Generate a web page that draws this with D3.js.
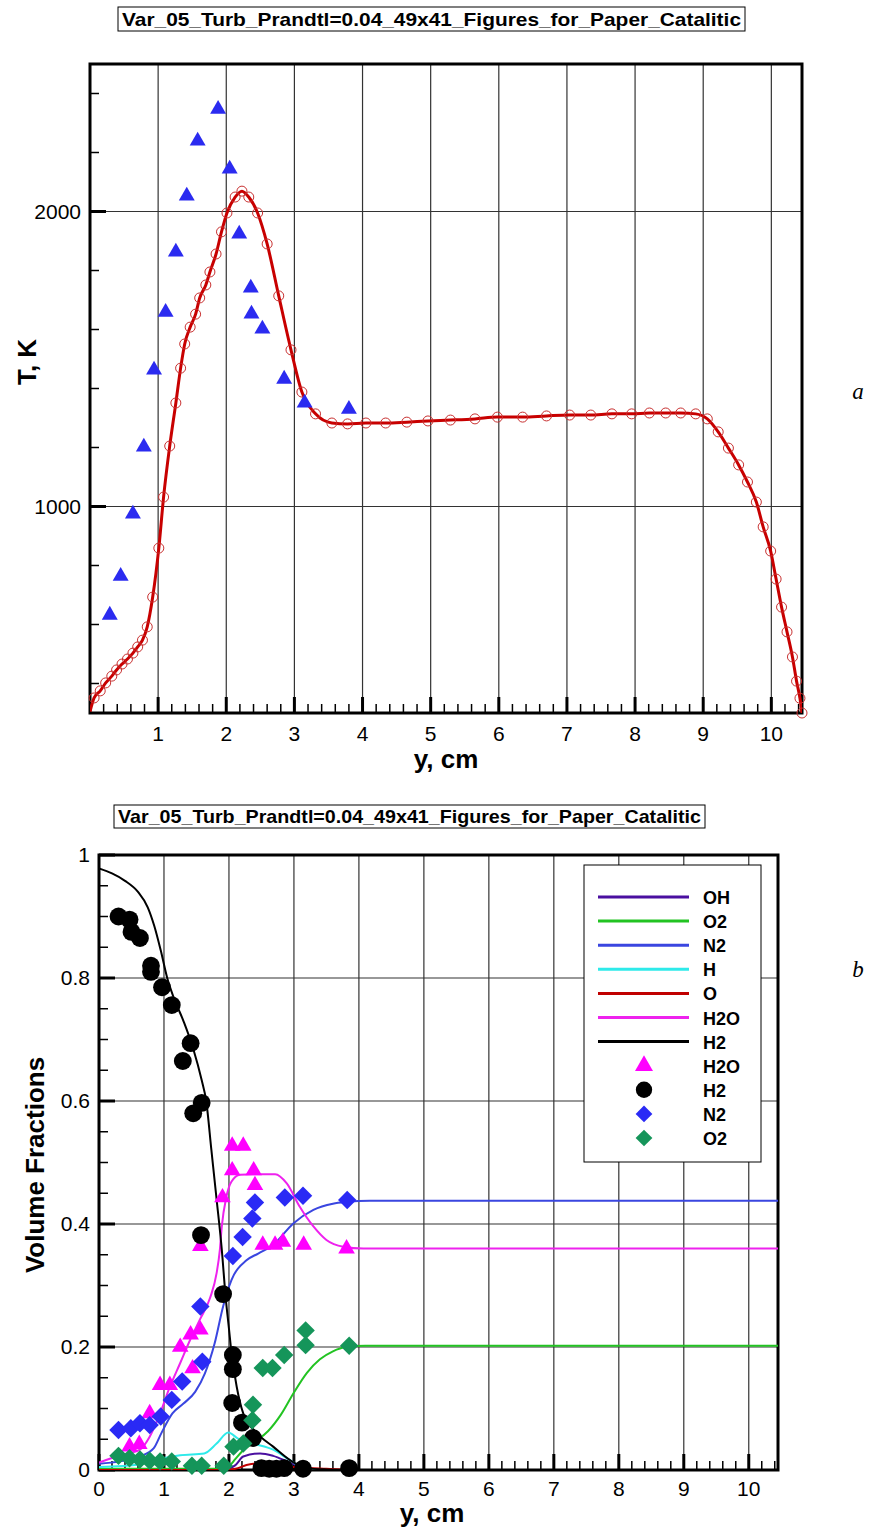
<!DOCTYPE html>
<html>
<head>
<meta charset="utf-8">
<script src="https://cdn.jsdelivr.net/npm/d3@7"></script>
<style>
  body { margin: 0; background: #fff; }
  svg { display: block; font-family: "Liberation Sans", Arial, sans-serif; }
  .grid line { stroke: #333; stroke-width: 1.2; }
  .frame { fill: none; stroke: #000; stroke-width: 3; }
  .tick-lbl { font-size: 21px; fill: #000; }
  .ax-title { font-size: 26px; font-weight: bold; fill: #000; }
  .leg-lbl { font-size: 18px; font-weight: bold; fill: #000; }
</style>
</head>
<body>
<svg width="870" height="1530"></svg>
<script>
// ---- top chart: temperature ----
var tX = [0, 0.06, 0.15, 0.23, 0.32, 0.39, 0.47, 0.55, 0.63, 0.7, 0.77, 0.84, 0.92, 1.01, 1.08, 1.17, 1.26, 1.33,
  1.39, 1.47, 1.55, 1.61, 1.7, 1.76, 1.85, 1.93, 2.01, 2.13, 2.23, 2.33, 2.46, 2.6, 2.77, 2.95, 3.11, 3.31, 3.55,
  3.78, 4.05, 4.34, 4.65, 4.96, 5.29, 5.65, 5.98, 6.35, 6.7, 7.04, 7.35, 7.66, 7.95, 8.21, 8.45, 8.67, 8.89, 9.06,
  9.22, 9.37, 9.52, 9.65, 9.78, 9.88, 9.99, 10.07, 10.15, 10.23, 10.31, 10.37, 10.42, 10.45];
var tVal = [305, 351, 375, 402, 425, 446, 466, 483, 503, 524, 547, 592, 693, 859, 1032, 1205, 1351, 1469,
  1551, 1608, 1652, 1707, 1751, 1795, 1856, 1931, 1995, 2049, 2069, 2049, 1995, 1890, 1714, 1531, 1388, 1314, 1283,
  1280, 1283, 1283, 1286, 1290, 1293, 1297, 1303, 1303, 1307, 1310, 1310, 1314, 1314, 1317, 1317, 1317, 1314, 1297,
  1253, 1198, 1141, 1083, 1015, 931, 849, 754, 659, 575, 490, 408, 350, 300];
var expTX = [0.29, 0.45, 0.63, 0.79, 0.94, 1.11, 1.26, 1.42, 1.58, 1.88, 2.05, 2.19, 2.36, 2.37, 2.53, 2.85, 3.15, 3.8];
var expT = [632, 764, 975, 1202, 1463, 1659, 1863, 2053, 2239, 2347, 2144, 1924, 1741, 1653, 1602, 1432, 1351, 1330];
var tTicks = [1000, 2000];

// ---- bottom chart: volume fractions (computed) ----
var ohX = [0, 1.9, 2.1, 2.22, 2.48, 2.68, 2.94, 3.2, 3.6, 10.45];
var ohV = [0, 0, 0.008, 0.022, 0.027, 0.023, 0.012, 0.002, 0, 0];
var o2X = [0, 1.9, 2.0, 2.1, 2.2, 2.4, 2.6, 2.8, 3.0, 3.2, 3.4, 3.6, 3.8, 4.1, 10.45];
var o2V = [0.002, 0.002, 0.006, 0.018, 0.03, 0.046, 0.063, 0.09, 0.126, 0.158, 0.18, 0.193, 0.2, 0.202, 0.202];
var n2X = [0, 0.32, 0.63, 0.84, 0.96, 1.13, 1.3, 1.48, 1.63, 1.78, 1.91, 2.04, 2.27, 2.45, 2.68, 2.99, 3.3, 3.6, 3.81, 4.17, 10.45];
var n2V = [0.01, 0.014, 0.022, 0.035, 0.06, 0.092, 0.108, 0.127, 0.157, 0.206, 0.266, 0.309, 0.341, 0.352, 0.366, 0.401, 0.423, 0.433, 0.436, 0.438, 0.438];
var hX = [0, 0.63, 0.99, 1.25, 1.62, 1.81, 1.99, 2.14, 2.37, 2.68, 2.94, 3.2, 3.5, 10.45];
var hV = [0.005, 0.009, 0.019, 0.024, 0.027, 0.043, 0.061, 0.051, 0.043, 0.033, 0.016, 0.001, 0, 0];
var oX = [0, 1.9, 2.1, 2.27, 2.48, 2.78, 3.1, 3.5, 4.0, 10.45];
var oV = [0, 0, 0.002, 0.008, 0.011, 0.007, 0.004, 0.002, 0, 0];
var h2oX = [0, 0.32, 0.63, 0.78, 0.94, 1.09, 1.25, 1.4, 1.55, 1.71, 1.81, 1.86, 1.89, 1.96, 2.04, 2.17, 2.37, 2.71, 2.89, 3.09, 3.3, 3.5, 3.76, 4.07, 10.45];
var h2oV = [0.012, 0.024, 0.033, 0.054, 0.092, 0.135, 0.174, 0.211, 0.244, 0.28, 0.32, 0.358, 0.396, 0.444, 0.469, 0.48, 0.481, 0.481, 0.466, 0.428, 0.396, 0.374, 0.363, 0.36, 0.36];
var h2X = [0, 0.2, 0.4, 0.6, 0.75, 0.85, 0.95, 1.05, 1.15, 1.3, 1.45, 1.58, 1.65, 1.73, 1.81, 1.89, 1.95, 2.0, 2.04, 2.12, 2.22, 2.43, 2.68, 2.94, 3.2, 3.5, 4.0, 10.45];
var h2V = [0.978, 0.97, 0.958, 0.94, 0.915, 0.885, 0.845, 0.8, 0.768, 0.73, 0.685, 0.634, 0.6, 0.52, 0.44, 0.358, 0.28, 0.23, 0.19, 0.135, 0.092, 0.06, 0.038, 0.016, 0.003, 0.001, 0, 0];

// ---- bottom chart: measured points ----
var expH2oX = [0.47, 0.62, 0.78, 0.94, 1.09, 1.25, 1.41, 1.44, 1.56, 1.56, 1.9, 2.05, 2.22, 2.05, 2.38, 2.4, 2.52, 2.71, 2.83, 3.15, 3.81];
var expH2oV = [0.038, 0.042, 0.092, 0.138, 0.138, 0.2, 0.22, 0.165, 0.228, 0.364, 0.443, 0.527, 0.527, 0.487, 0.487, 0.463, 0.366, 0.366, 0.371, 0.366, 0.36];
var expH2X = [0.3, 0.47, 0.5, 0.63, 0.8, 0.8, 0.97, 1.12, 1.29, 1.41, 1.45, 1.58, 1.57, 1.91, 2.06, 2.06, 2.05, 2.2, 2.37, 2.5, 2.62, 2.73, 2.85, 3.14, 3.85];
var expH2V = [0.9, 0.895, 0.875, 0.865, 0.82, 0.81, 0.785, 0.756, 0.665, 0.694, 0.58, 0.597, 0.382, 0.286, 0.187, 0.164, 0.109, 0.077, 0.052, 0.003, 0.002, 0.002, 0.003, 0.002, 0.003];
var expN2X = [0.3, 0.49, 0.63, 0.78, 0.95, 1.12, 1.28, 1.59, 1.56, 2.06, 2.21, 2.36, 2.4, 2.86, 3.14, 3.82];
var expN2V = [0.065, 0.068, 0.076, 0.073, 0.087, 0.114, 0.144, 0.176, 0.266, 0.348, 0.379, 0.409, 0.435, 0.443, 0.446, 0.439];
var expO2X = [0.3, 0.47, 0.63, 0.78, 0.94, 1.12, 1.43, 1.58, 1.92, 2.07, 2.22, 2.36, 2.37, 2.52, 2.67, 2.85, 3.18, 3.18, 3.85];
var expO2V = [0.023, 0.019, 0.017, 0.015, 0.014, 0.014, 0.007, 0.007, 0.007, 0.038, 0.043, 0.081, 0.106, 0.166, 0.166, 0.187, 0.203, 0.227, 0.202];

var xTicks = [0, 1, 2, 3, 4, 5, 6, 7, 8, 9, 10];
var vTicks = [0, 0.2, 0.4, 0.6, 0.8, 1];
var titleText = "Var_05_Turb_Prandtl=0.04_49x41_Figures_for_Paper_Catalitic";

var svg = d3.select("svg");

function zip(xs, ys) { return xs.map(function(x, i) { return [x, ys[i]]; }); }

function titleBox(x0, x1, y0, y1) {
  svg.append("rect").attr("x", x0).attr("y", y0).attr("width", x1 - x0).attr("height", y1 - y0)
    .attr("fill", "#fff").attr("stroke", "#000").attr("stroke-width", 1);
  svg.append("text").attr("x", x0 + 4).attr("y", y1 - 5)
    .attr("textLength", x1 - x0 - 8).attr("lengthAdjust", "spacingAndGlyphs")
    .style("font-family", "'Liberation Sans Narrow', 'Arial Narrow', 'Liberation Sans', sans-serif")
    .style("font-weight", "bold").style("font-size", "19px")
    .text(titleText);
}

// draws grid, inward ticks, frame and labels for one panel
function panel(x, y, opt) {
  var L = x.range()[0], R = x.range()[1], B = y.range()[0], T = y.range()[1];
  var g = svg.append("g");
  var grid = g.append("g").attr("class", "grid");
  opt.xGrid.forEach(function(v) {
    grid.append("line").attr("x1", x(v)).attr("x2", x(v)).attr("y1", T).attr("y2", B);
  });
  opt.yGrid.forEach(function(v) {
    grid.append("line").attr("x1", L).attr("x2", R).attr("y1", y(v)).attr("y2", y(v));
  });
  // minor ticks
  opt.xMinor.forEach(function(v) {
    g.append("line").attr("x1", x(v)).attr("x2", x(v)).attr("y1", B).attr("y2", B - 9)
      .attr("stroke", "#000").attr("stroke-width", 1.5);
  });
  opt.yMinor.forEach(function(v) {
    g.append("line").attr("x1", L).attr("x2", L + 9).attr("y1", y(v)).attr("y2", y(v))
      .attr("stroke", "#000").attr("stroke-width", 1.5);
  });
  opt.xMajor.forEach(function(v) {
    g.append("line").attr("x1", x(v)).attr("x2", x(v)).attr("y1", B).attr("y2", B - 16)
      .attr("stroke", "#000").attr("stroke-width", 3);
    g.append("text").attr("class", "tick-lbl").attr("x", x(v)).attr("y", B + opt.xLblDy)
      .attr("text-anchor", "middle").text(opt.xFmt(v));
  });
  opt.yMajor.forEach(function(v) {
    g.append("line").attr("x1", L).attr("x2", L + 16).attr("y1", y(v)).attr("y2", y(v))
      .attr("stroke", "#000").attr("stroke-width", 3);
    g.append("text").attr("class", "tick-lbl").attr("x", L - opt.yLblDx).attr("y", y(v) + 7)
      .attr("text-anchor", "end").text(opt.yFmt(v));
  });
  g.append("rect").attr("class", "frame").attr("x", L).attr("y", T).attr("width", R - L).attr("height", B - T);
  return g;
}

function range(a, b, s) {
  var out = [];
  for (var v = a; v <= b + 1e-9; v += s) out.push(+v.toFixed(4));
  return out;
}

// ================= TOP PANEL =================
titleBox(118, 745, 7, 31);

var x1 = d3.scaleLinear().domain([0, 10.45]).range([90, 802]);
var y1 = d3.scaleLinear().domain([300, 2500]).range([713, 64]);

svg.append("defs").append("clipPath").attr("id", "clipTop")
  .append("rect").attr("x", 90).attr("y", 64).attr("width", 712).attr("height", 649);

panel(x1, y1, {
  xGrid: [1, 2, 3, 4, 5, 6, 7, 8, 9, 10], yGrid: tTicks,
  xMinor: range(0.2, 10.4, 0.2).filter(function(v) { return Math.abs(v - Math.round(v)) > 0.01; }),
  yMinor: [400, 600, 800, 1200, 1400, 1600, 1800, 2200, 2400],
  xMajor: xTicks.slice(1), yMajor: tTicks,
  xLblDy: 28, yLblDx: 9,
  xFmt: function(v) { return v; }, yFmt: function(v) { return v; }
});

var tData = zip(tX, tVal);
var lineT = d3.line().x(function(d) { return x1(d[0]); }).y(function(d) { return y1(d[1]); })
  .curve(d3.curveMonotoneX);
svg.append("path").datum(tData).attr("clip-path", "url(#clipTop)")
  .attr("d", lineT).attr("fill", "none").attr("stroke", "#c80000").attr("stroke-width", 3);
svg.append("g").selectAll("circle").data(tData.slice(1)).enter().append("circle")
  .attr("cx", function(d) { return x1(d[0]); }).attr("cy", function(d) { return y1(d[1]); })
  .attr("r", 5).attr("fill", "none").attr("stroke", "#c83030").attr("stroke-width", 1);

var triSym = d3.symbol().type(d3.symbolTriangle).size(110);
svg.append("g").selectAll("path").data(zip(expTX, expT)).enter().append("path")
  .attr("transform", function(d) { return "translate(" + x1(d[0]) + "," + y1(d[1]) + ")"; })
  .attr("d", triSym).attr("fill", "#2b2bf0");

svg.append("text").attr("class", "ax-title").attr("text-anchor", "middle")
  .attr("transform", "translate(36,362) rotate(-90)").text("T, K");
svg.append("text").attr("class", "ax-title").attr("text-anchor", "middle")
  .attr("x", 446).attr("y", 768).text("y, cm");
svg.append("text").attr("x", 858).attr("y", 399).attr("text-anchor", "middle")
  .style("font-family", "'Liberation Serif', 'Times New Roman', serif").style("font-style", "italic")
  .style("font-size", "23px").text("a");

// ================= BOTTOM PANEL =================
titleBox(114, 705, 805, 828);

var x2 = d3.scaleLinear().domain([0, 10.45]).range([99, 778]);
var y2 = d3.scaleLinear().domain([0, 1]).range([1470, 855]);

svg.select("defs").append("clipPath").attr("id", "clipBot")
  .append("rect").attr("x", 99).attr("y", 855).attr("width", 679).attr("height", 615);

panel(x2, y2, {
  xGrid: [1, 2, 3, 4, 5, 6, 7, 8, 9, 10], yGrid: [0.2, 0.4, 0.6, 0.8],
  xMinor: range(0.2, 10.4, 0.2).filter(function(v) { return Math.abs(v - Math.round(v)) > 0.01; }),
  yMinor: range(0.05, 0.95, 0.05).filter(function(v) { return Math.abs(v * 5 - Math.round(v * 5)) > 0.01; }),
  xMajor: xTicks, yMajor: vTicks,
  xLblDy: 26, yLblDx: 9,
  xFmt: function(v) { return v; }, yFmt: function(v) { return v; }
});

var series = [
  { name: "OH", xs: ohX, vs: ohV, color: "#4a0fa0" },
  { name: "O2", xs: o2X, vs: o2V, color: "#22c322" },
  { name: "N2", xs: n2X, vs: n2V, color: "#3a46e0" },
  { name: "H", xs: hX, vs: hV, color: "#2eeaea" },
  { name: "O", xs: oX, vs: oV, color: "#c00000" },
  { name: "H2O", xs: h2oX, vs: h2oV, color: "#ee22ee" },
  { name: "H2", xs: h2X, vs: h2V, color: "#000000" }
];
var lineV = d3.line().x(function(d) { return x2(d[0]); }).y(function(d) { return y2(d[1]); })
  .curve(d3.curveMonotoneX);
svg.append("g").attr("clip-path", "url(#clipBot)").selectAll("path").data(series).enter().append("path")
  .attr("d", function(s) { return lineV(zip(s.xs, s.vs)); })
  .attr("fill", "none").attr("stroke", function(s) { return s.color; }).attr("stroke-width", 2);

var markers = [
  { name: "H2O", xs: expH2oX, vs: expH2oV, color: "#ff00ff", sym: d3.symbolTriangle, size: 120, rot: 0 },
  { name: "H2", xs: expH2X, vs: expH2V, color: "#000000", sym: d3.symbolCircle, size: 250, rot: 0 },
  { name: "N2", xs: expN2X, vs: expN2V, color: "#2a2af5", sym: d3.symbolSquare, size: 170, rot: 45 },
  { name: "O2", xs: expO2X, vs: expO2V, color: "#15955a", sym: d3.symbolSquare, size: 170, rot: 45 }
];
markers.forEach(function(m) {
  var sym = d3.symbol().type(m.sym).size(m.size);
  svg.append("g").selectAll("path").data(zip(m.xs, m.vs)).enter().append("path")
    .attr("transform", function(d) { return "translate(" + x2(d[0]) + "," + y2(d[1]) + ") rotate(" + m.rot + ")"; })
    .attr("d", sym).attr("fill", m.color);
});

// legend
var leg = svg.append("g");
leg.append("rect").attr("x", 584).attr("y", 865).attr("width", 177).attr("height", 297)
  .attr("fill", "#fff").attr("stroke", "#000").attr("stroke-width", 1);
var rowY = d3.scaleLinear().domain([0, 10]).range([897, 1138]);
series.forEach(function(s, i) {
  leg.append("line").attr("x1", 598).attr("x2", 689).attr("y1", rowY(i)).attr("y2", rowY(i))
    .attr("stroke", s.color).attr("stroke-width", 3);
  leg.append("text").attr("class", "leg-lbl").attr("x", 703).attr("y", rowY(i) + 7).text(s.name);
});
markers.forEach(function(m, j) {
  var i = series.length + j;
  leg.append("path").attr("d", d3.symbol().type(m.sym).size(m.sym === d3.symbolCircle ? 210 : 140)())
    .attr("transform", "translate(644," + rowY(i) + ") rotate(" + m.rot + ")").attr("fill", m.color);
  leg.append("text").attr("class", "leg-lbl").attr("x", 703).attr("y", rowY(i) + 7).text(m.name);
});

svg.append("text").attr("class", "ax-title").attr("text-anchor", "middle")
  .attr("transform", "translate(44,1165) rotate(-90)").text("Volume Fractions");
svg.append("text").attr("class", "ax-title").attr("text-anchor", "middle")
  .attr("x", 432).attr("y", 1522).text("y, cm");
svg.append("text").attr("x", 858).attr("y", 977).attr("text-anchor", "middle")
  .style("font-family", "'Liberation Serif', 'Times New Roman', serif").style("font-style", "italic")
  .style("font-size", "23px").text("b");
</script>
</body>
</html>
